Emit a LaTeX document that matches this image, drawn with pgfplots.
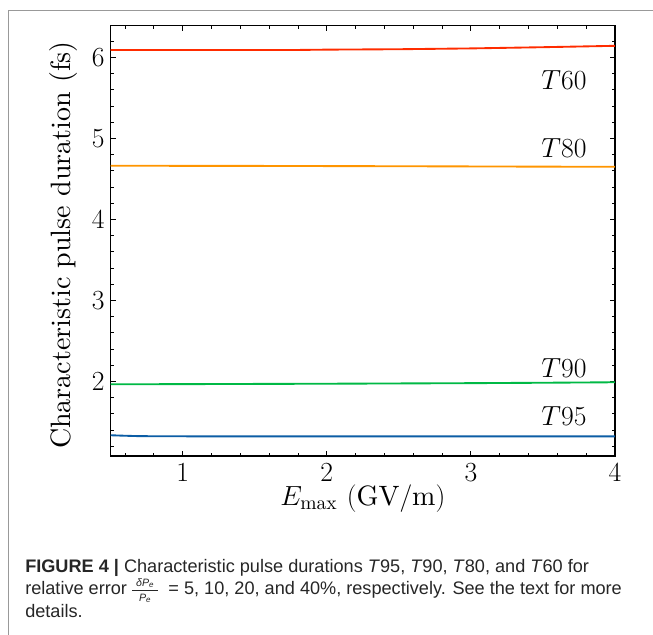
\documentclass[border=0pt]{standalone}
\usepackage{pgfplots}
\pgfplotsset{compat=1.18}
\usepackage{fontspec}
\setmainfont{lmroman10-regular.otf}[ItalicFont=lmroman10-italic.otf, BoldFont=lmroman10-bold.otf]
\newfontfamily\capfont{Liberation Sans}
\definecolor{cblue}{HTML}{0C5DA5}
\definecolor{cgreen}{HTML}{00B945}
\definecolor{corange}{HTML}{FF9500}
\definecolor{cred}{HTML}{FF2C00}
\begin{document}
\begin{tikzpicture}
\path[use as bounding box] (0,0) rectangle (489.75pt,-476.25pt);
\draw[gray!80, line width=1.1pt] (6.25pt,-476.25pt) -- (6.25pt,-8pt) -- (489.75pt,-8pt);
\begin{axis}[
  at={(83pt,-342pt)}, anchor=south west,
  scale only axis, width=378.2pt, height=322.7pt,
  xmin=0.5, xmax=4, ymin=1.08, ymax=6.39,
  xtick={1,2,3,4}, ytick={2,3,4,5,6},
  minor xtick={0.6,0.8,1.2,1.4,1.6,1.8,2.2,2.4,2.6,2.8,3.2,3.4,3.6,3.8},
  minor ytick={1.2,1.4,1.6,1.8,2.2,2.4,2.6,2.8,3.2,3.4,3.6,3.8,4.2,4.4,4.6,4.8,5.2,5.4,5.6,5.8,6.2},
  tick align=inside, major tick length=4pt, minor tick length=2.2pt,
  every tick/.style={black, line width=0.6pt},
  axis line style={line width=0.9pt},
  tick label style={font=\fontsize{19.5}{19.5}\selectfont},
  label style={font=\fontsize{21}{21}\selectfont},
  xticklabel style={yshift=-2pt},
  yticklabel style={xshift=-1pt},
  xlabel={$E_\mathrm{max}\ (\mathrm{GV/m})$},
  ylabel={Characteristic pulse duration (fs)},
  xlabel style={at={(axis description cs:0.5,-0.114)}, anchor=base},
  ylabel style={at={(axis description cs:-0.057,0.49)}, anchor=south},
  every axis plot/.append style={line width=1.4pt, no marks},
  clip=true,
]
\addplot[cred] coordinates {(0.5,6.09) (1.0,6.09) (1.5,6.09) (1.8,6.091) (2.0,6.095) (2.5,6.10) (3.0,6.11) (3.5,6.125) (4.0,6.142)};
\addplot[corange] coordinates {(0.5,4.662) (1.5,4.66) (2.5,4.656) (3.5,4.651) (4.0,4.649)};
\addplot[cgreen] coordinates {(0.5,1.965) (1.0,1.967) (2.0,1.972) (3.0,1.979) (3.5,1.984) (4.0,1.99)};
\addplot[cblue] coordinates {(0.5,1.336) (0.6,1.33) (0.7,1.325) (1.0,1.323) (2.0,1.322) (3.0,1.322) (4.0,1.322)};
\node[anchor=east, font=\fontsize{21.5}{21.5}\selectfont] at (axis cs:3.835,5.72) {$T60$};
\node[anchor=east, font=\fontsize{21.5}{21.5}\selectfont] at (axis cs:3.835,4.88) {$T80$};
\node[anchor=east, font=\fontsize{21.5}{21.5}\selectfont] at (axis cs:3.835,2.17) {$T90$};
\node[anchor=east, font=\fontsize{21.5}{21.5}\selectfont] at (axis cs:3.835,1.57) {$T95$};
\end{axis}
\begin{scope}[every node/.style={anchor=base west, inner sep=0pt, font=\capfont\fontsize{13.6}{13.6}\selectfont, text=black!85}]
\node at (18.75pt,-429pt) {\textbf{FIGURE 4 |} Characteristic pulse durations \textit{T}95, \textit{T}90, \textit{T}80, and \textit{T}60 for};
\node at (18.75pt,-445.5pt) {relative error \raisebox{-0.4em}{\shortstack{\capfont\fontsize{8}{8}\selectfont\itshape δP\textsubscript{e}\\[-1.5pt]\rule{1.45em}{0.4pt}\\[-0.5pt]\capfont\fontsize{8}{8}\selectfont\itshape P\textsubscript{e}}} \ = 5, 10, 20, and 40\%, respectively. See the text for more};
\node at (18.75pt,-462.75pt) {details.};
\end{scope}
\end{tikzpicture}
\end{document}
